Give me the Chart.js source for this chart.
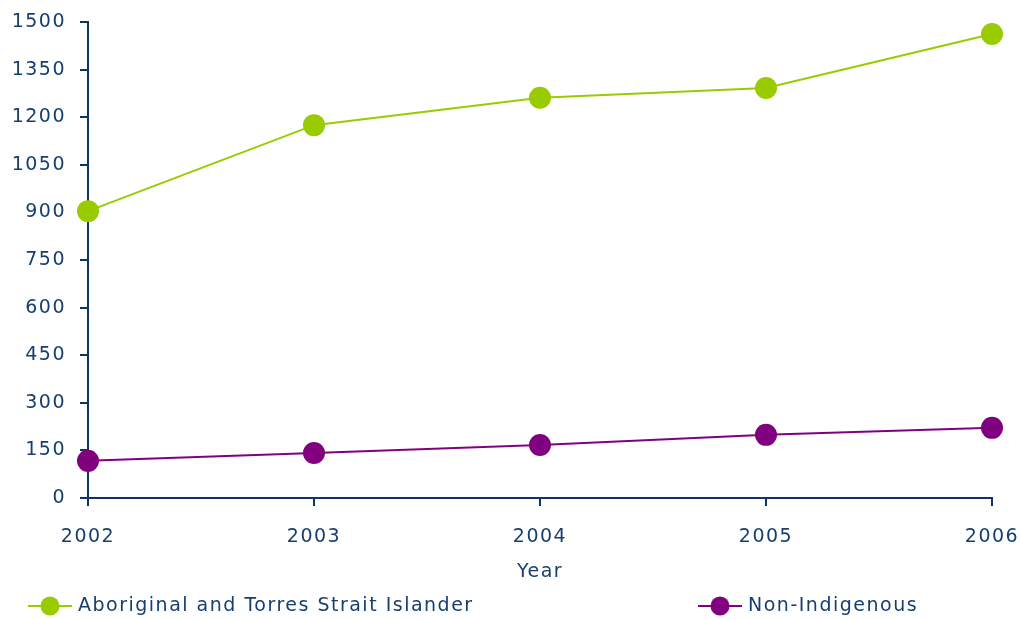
<!DOCTYPE html>
<html>
<head>
<meta charset="utf-8">
<script src="https://cdn.jsdelivr.net/npm/chart.js@4.4.1/dist/chart.umd.min.js"></script>
<style>
  html, body { margin: 0; padding: 0; background: #ffffff; }
  #wrap { width: 1022px; height: 619px; }
</style>
</head>
<body>
<div id="wrap"><canvas id="c" width="1022" height="619"></canvas></div>
<script>
const years = ['2002', '2003', '2004', '2005', '2006'];
const indigenousValues = [904, 1175, 1261, 1292, 1462];
const nonIndigenousValues = [117, 142, 167, 199, 221];
const seriesNames = ['Aboriginal and Torres Strait Islander', 'Non-Indigenous'];
const xAxisTitle = 'Year';

const textColor = '#173f6e';
const axisColor = '#0d3560';
const greenColor = '#99cc00';
const purpleColor = '#800080';
const fontFamily = '"DejaVu Sans", Verdana, sans-serif';
const fontSize = 19;
const spacing = '1.5px';

const spacingPlugin = {
  id: 'spacing',
  beforeUpdate(chart) { chart.ctx.letterSpacing = spacing; },
  beforeDraw(chart) { chart.ctx.letterSpacing = spacing; }
};

const customLegend = {
  id: 'customLegend',
  afterDraw(chart) {
    const ctx = chart.ctx;
    const y = 606;
    const positions = [28, 698];
    ctx.save();
    ctx.letterSpacing = spacing;
    chart.data.datasets.forEach((ds, i) => {
      const x0 = positions[i];
      ctx.strokeStyle = ds.borderColor;
      ctx.lineWidth = 2;
      ctx.beginPath();
      ctx.moveTo(x0, y);
      ctx.lineTo(x0 + 44, y);
      ctx.stroke();
      ctx.fillStyle = ds.backgroundColor;
      ctx.beginPath();
      ctx.arc(x0 + 22, y, 9.5, 0, Math.PI * 2);
      ctx.fill();
      ctx.fillStyle = textColor;
      ctx.font = fontSize + 'px ' + fontFamily;
      ctx.textBaseline = 'middle';
      ctx.textAlign = 'left';
      ctx.fillText(ds.label, x0 + 50, y);
    });
    ctx.restore();
  }
};

new Chart(document.getElementById('c'), {
  type: 'line',
  data: {
    labels: years,
    datasets: [
      {
        label: seriesNames[0],
        data: indigenousValues,
        borderColor: greenColor,
        backgroundColor: greenColor,
        borderWidth: 2,
        pointRadius: 11,
        pointHoverRadius: 11,
        pointBorderWidth: 0,
        tension: 0
      },
      {
        label: seriesNames[1],
        data: nonIndigenousValues,
        borderColor: purpleColor,
        backgroundColor: purpleColor,
        borderWidth: 2,
        pointRadius: 11,
        pointHoverRadius: 11,
        pointBorderWidth: 0,
        tension: 0
      }
    ]
  },
  options: {
    responsive: false,
    animation: false,
    devicePixelRatio: 1,
    layout: { padding: { left: 0, right: 0, top: 22, bottom: 36 } },
    plugins: {
      legend: { display: false },
      tooltip: { enabled: false }
    },
    scales: {
      x: {
        offset: false,
        grid: { display: true, drawOnChartArea: false, drawTicks: true, tickLength: 8, tickColor: axisColor, lineWidth: 2 },
        border: { display: true, color: axisColor, width: 2 },
        ticks: { color: textColor, font: { family: fontFamily, size: fontSize }, padding: 20, maxRotation: 0 },
        title: { display: true, text: xAxisTitle, color: textColor, font: { family: fontFamily, size: fontSize }, padding: { top: 6, bottom: 0 } },
        afterFit(scale) { scale.height = 85; scale.paddingRight = 30; scale.paddingLeft = 0; }
      },
      y: {
        min: 0,
        max: 1500,
        grid: { display: true, drawOnChartArea: false, drawTicks: true, tickLength: 8, tickColor: axisColor, lineWidth: 2 },
        border: { display: true, color: axisColor, width: 2 },
        ticks: { stepSize: 150, color: textColor, font: { family: fontFamily, size: fontSize }, padding: 14,
                 callback: (v) => String(v) },
        afterFit(scale) { scale.width = 88; scale.paddingTop = 0; scale.paddingBottom = 0; }
      }
    }
  },
  plugins: [spacingPlugin, customLegend]
});
</script>
</body>
</html>
